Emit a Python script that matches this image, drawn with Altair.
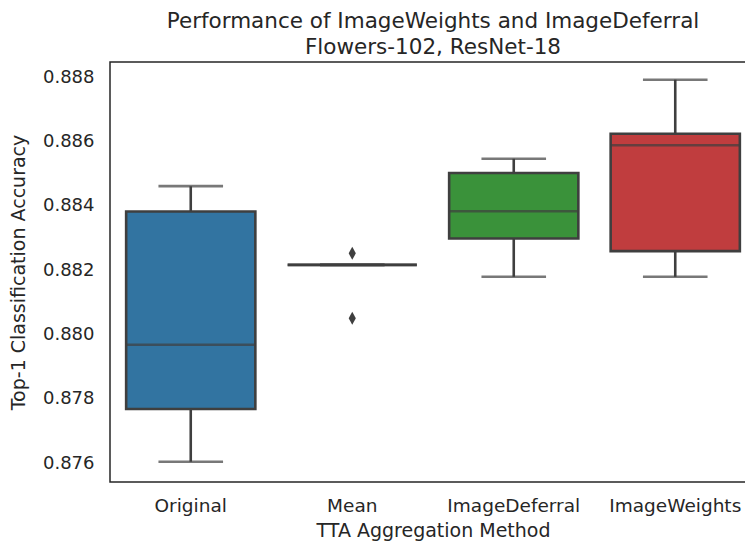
import altair as alt
import pandas as pd

categories = ["Original", "Mean", "ImageDeferral", "ImageWeights"]
whisker_low = [0.87604, 0.88216, 0.88179, 0.88179]
q1 = [0.87768, 0.88216, 0.88298, 0.88259]
median = [0.87968, 0.88216, 0.88383, 0.88588]
q3 = [0.88382, 0.88216, 0.88502, 0.88624]
whisker_high = [0.88461, 0.88216, 0.88546, 0.88792]
colors = ["#3274a1", "#e1812c", "#3a923a", "#c03d3e"]

flier_cat = ["Mean", "Mean"]
flier_val = [0.88252, 0.88050]

box_df = pd.DataFrame({
    "cat": categories, "lo": whisker_low, "q1": q1, "med": median,
    "q3": q3, "hi": whisker_high,
})
flier_df = pd.DataFrame({"cat": flier_cat, "val": flier_val})

W, H = 646, 420
step = W / len(categories)
boxw = 0.8 * step
LINE = "#3f3f3f"
LW = 2.6
FONT = "DejaVu Sans"

xscale = alt.Scale(domain=categories, paddingInner=0.2, paddingOuter=0.1)
yscale = alt.Scale(domain=[0.87541, 0.88847], nice=False, zero=False)

xaxis = alt.Axis(title="TTA Aggregation Method", labelAngle=0,
                 ticks=False, domain=False, labelPadding=14, titlePadding=7)
yaxis = alt.Axis(title="Top-1 Classification Accuracy", format=".3f",
                 values=[0.876, 0.878, 0.880, 0.882, 0.884, 0.886, 0.888],
                 ticks=False, domain=False, grid=False, labelPadding=16,
                 titlePadding=14)


def xe(center=False):
    if center:
        return alt.X("cat:N", scale=xscale, sort=categories, axis=xaxis,
                     bandPosition=0.5)
    return alt.X("cat:N", scale=xscale, sort=categories, axis=xaxis)


base = alt.Chart(box_df)

whisk = base.mark_rule(color=LINE, strokeWidth=LW).encode(
    x=xe(True),
    y=alt.Y("lo:Q", scale=yscale, axis=yaxis),
    y2="hi:Q",
)

box = base.mark_bar(stroke=LINE, strokeWidth=LW, opacity=1).encode(
    x=xe(),
    y=alt.Y("q1:Q", scale=yscale, axis=yaxis),
    y2="q3:Q",
    color=alt.Color("cat:N", scale=alt.Scale(domain=categories, range=colors),
                    legend=None),
)

med = base.mark_tick(color=LINE, thickness=LW, size=boxw,
                     orient="horizontal").encode(
    x=xe(),
    y=alt.Y("med:Q", scale=yscale, axis=yaxis),
)

cap_lo = base.mark_tick(color=LINE, thickness=LW, size=boxw / 2,
                        orient="horizontal").encode(
    x=xe(),
    y=alt.Y("lo:Q", scale=yscale, axis=yaxis),
)
cap_hi = base.mark_tick(color=LINE, thickness=LW, size=boxw / 2,
                        orient="horizontal").encode(
    x=xe(),
    y=alt.Y("hi:Q", scale=yscale, axis=yaxis),
)

fliers = alt.Chart(flier_df).mark_point(
    shape="M0,-1L0.55,0L0,1L-0.55,0Z", filled=True, color=LINE, size=170,
    opacity=1,
).encode(
    x=xe(True),
    y=alt.Y("val:Q", scale=yscale, axis=yaxis),
)

chart = alt.layer(whisk, box, med, cap_lo, cap_hi, fliers).properties(
    width=W, height=H,
    background="white",
    title=alt.TitleParams(
        ["Performance of ImageWeights and ImageDeferral", "Flowers-102, ResNet-18"],
        font=FONT, fontSize=21.5, fontWeight="normal", color="#262626",
        anchor="middle", frame="group", offset=4, lineHeight=25.5,
    ),
    autosize=alt.AutoSizeParams(type="none"),
    padding={"left": 102, "top": 54, "right": -11, "bottom": 63},
).configure_view(
    stroke="#262626", strokeWidth=1.5,
).configure_axis(
    labelFont=FONT, titleFont=FONT, titleFontSize=19,
    labelColor="#262626", titleColor="#262626", titleFontWeight="normal",
).configure_axisX(
    labelFontSize=18.5,
).configure_axisY(
    labelFontSize=18,
)

chart.save("out.html", embed_options={"renderer": "svg", "actions": False})
